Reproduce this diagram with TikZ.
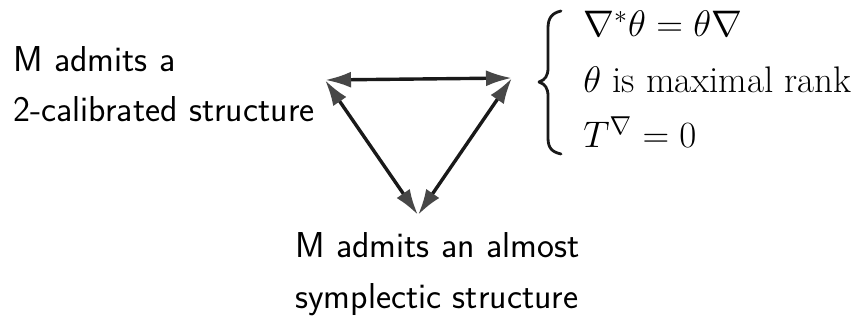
\RequirePackage{fix-cm}
\documentclass[tikz,border=0pt]{standalone}
\usepackage{fontspec}
\usetikzlibrary{arrows.meta}
\begin{document}
\begin{tikzpicture}[x=0.5pt,y=-0.5pt,
  txt/.style={font={\fontsize{18}{25}\selectfont\sffamily}, inner sep=0pt, anchor=base west},
  mth/.style={font={\fontsize{18.5}{22}\selectfont}, inner sep=0pt, anchor=base west},
  bracestroke/.style={line width=1.4pt, line cap=round, line join=round, draw=black!90},
  dbl/.style={{Latex[length=13pt,width=8pt,color=black!72]}-{Latex[length=13pt,width=8pt,color=black!72]}, line width=1.7pt, draw=black!90}]
\useasboundingbox (0,0) rectangle (857,320);
\fill[white] (0,0) rectangle (857,320);
% vertices
\coordinate (A) at (325,80);
\coordinate (B) at (512,78);
\coordinate (C) at (418,215);
\draw[dbl] (A) -- (B);
\draw[dbl] (A) -- (C);
\draw[dbl] (B) -- (C);
% left text
\node[txt] (l1) at (13,71.7) {M admits a};
\node[txt] (l2) at (13,121.7) {2-calibrated structure};
% bottom text
\node[txt] (b1) at (295,258) {M admits an almost};
\node[txt] (b2) at (295,308) {symplectic structure};
% right conditions: brace
\draw[bracestroke] (561,11) .. controls (552,13) and (548,18) .. (548,28) -- (548,68)
  .. controls (548,76) and (545,80) .. (539,82)
  .. controls (545,84) and (548,88) .. (548,96) -- (548,138)
  .. controls (548,148) and (552,152) .. (561,154);
\node[mth] (c1) at (583,37) {$\nabla^{*}\theta=\theta\nabla$};
\node[mth] (c2) at (583,93) {$\theta$ is maximal rank};
\node[mth] (c3) at (583,148) {$T^{\nabla}=0$};
\end{tikzpicture}
\end{document}
